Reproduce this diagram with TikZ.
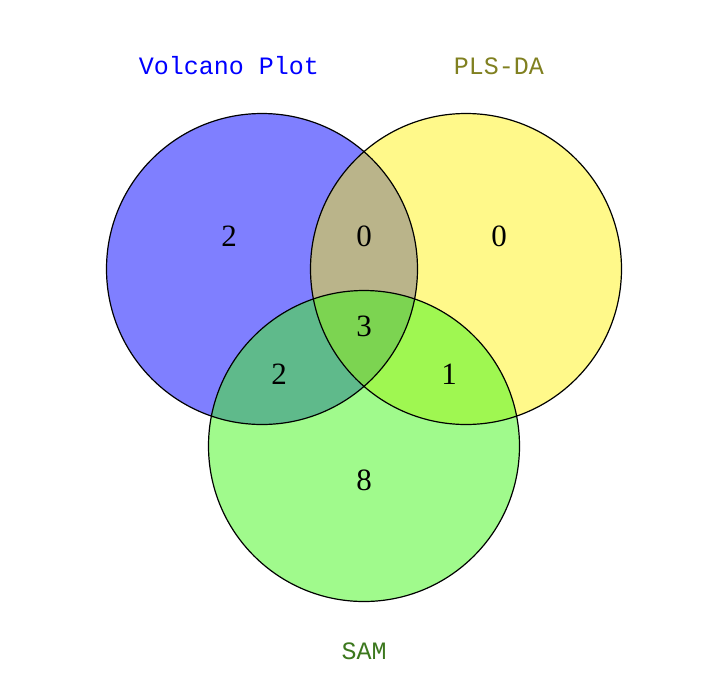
\documentclass[tikz,border=0pt]{standalone}
\usepackage{fontspec}
\setmonofont{Liberation Mono}
\newfontfamily\numfont{Liberation Serif}
\usepackage{tikz}
\definecolor{samgreen}{RGB}{65,245,25}
\definecolor{volcblue}{RGB}{0,0,255}
\definecolor{plsolive}{RGB}{128,128,32}
\definecolor{samtext}{RGB}{60,120,30}

\begin{document}
\begin{tikzpicture}[
    x=1pt, y=-1pt,
    setcircle/.style={circle, minimum size=311pt, inner sep=0pt},
    outline/.style={draw=black, line width=1.2pt},
    setlabel/.style={font=\fontsize{25}{25}\selectfont\ttfamily},
    count/.style={font=\fontsize{31}{31}\selectfont\numfont}
]
\useasboundingbox (0,0) rectangle (704,694);
\node[setcircle, fill=volcblue, fill opacity=0.5](volcano) at (262,269){};
\node[setcircle, fill=yellow, fill opacity=0.46](pls) at (466,269){};
\node[setcircle, fill=samgreen, fill opacity=0.5](sam) at (364,446){};
% outlines on top of the fills
\draw[outline] (volcano.center) circle (155.5);
\draw[outline] (pls.center) circle (155.5);
\draw[outline] (sam.center) circle (155.5);
\node[setlabel, text=volcblue](volcanolabel) at (229,66){Volcano Plot};
\node[setlabel, text=plsolive](plslabel) at (499,66){PLS-DA};
\node[setlabel, text=samtext](samlabel) at (364,651){SAM};
\node[count](onlyvolcano) at (229,236){2};
\node[count](volcanopls) at (364,236){0};
\node[count](onlypls) at (499,236){0};
\node[count](all) at (364,326){3};
\node[count](volcanosam) at (279,374){2};
\node[count](plssam) at (449,374){1};
\node[count](onlysam) at (364,480){8};
\end{tikzpicture}
\end{document}
